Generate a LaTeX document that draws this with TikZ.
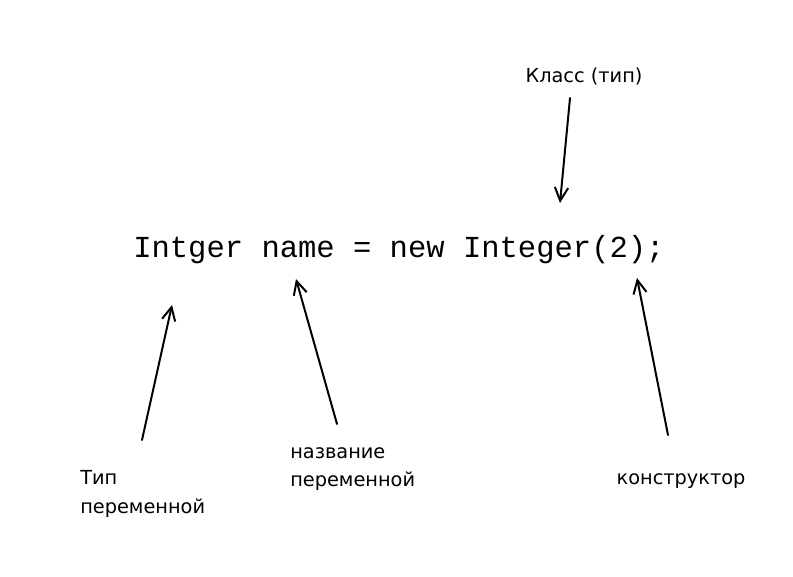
\documentclass[tikz,border=0pt]{standalone}
\usepackage{fontspec}
\setmainfont{DejaVu Sans}
\setmonofont{Liberation Mono}
\usetikzlibrary{arrows.meta,positioning}

\begin{document}
\begin{tikzpicture}[
    x=0.75pt, y=-0.75pt,
    codeline/.style={inner sep=0pt, font=\ttfamily\fontsize{22.9}{26}\selectfont},
    note/.style={inner sep=0pt, align=left, font=\fontsize{14.5}{21.5}\selectfont},
    pointer/.style={-{Straight Barb[length=10pt,width=10pt]}, line width=1.5pt, line cap=round},
]
\useasboundingbox (0,0) rectangle (793,577);

% code
\node[codeline, anchor=west] (code) at (133,250) {Intger name = new Integer(2);};

% labels
\node[note, anchor=center] (cls) at (584,76) {Класс (тип)};
\node[note, anchor=north west] (vtype) at (80,470) {Тип\\переменной};
\node[note, anchor=north west] (vname) at (290,447) {название\\переменной};
\node[note, anchor=center] (ctor) at (681,481) {конструктор};

% arrow ends
\coordinate (clsTail) at (570,98);
\coordinate (clsTip) at (560,203);
\coordinate (vtypeTail) at (142,440);
\coordinate (vtypeTip) at (172,305);
\coordinate (vnameTail) at (337,424);
\coordinate (vnameTip) at (296,279);
\coordinate (ctorTail) at (668,435);
\coordinate (ctorTip) at (637,278);

\draw[pointer] (clsTail) -- (clsTip);
\draw[pointer] (vtypeTail) -- (vtypeTip);
\draw[pointer] (vnameTail) -- (vnameTip);
\draw[pointer] (ctorTail) -- (ctorTip);
\end{tikzpicture}
\end{document}
